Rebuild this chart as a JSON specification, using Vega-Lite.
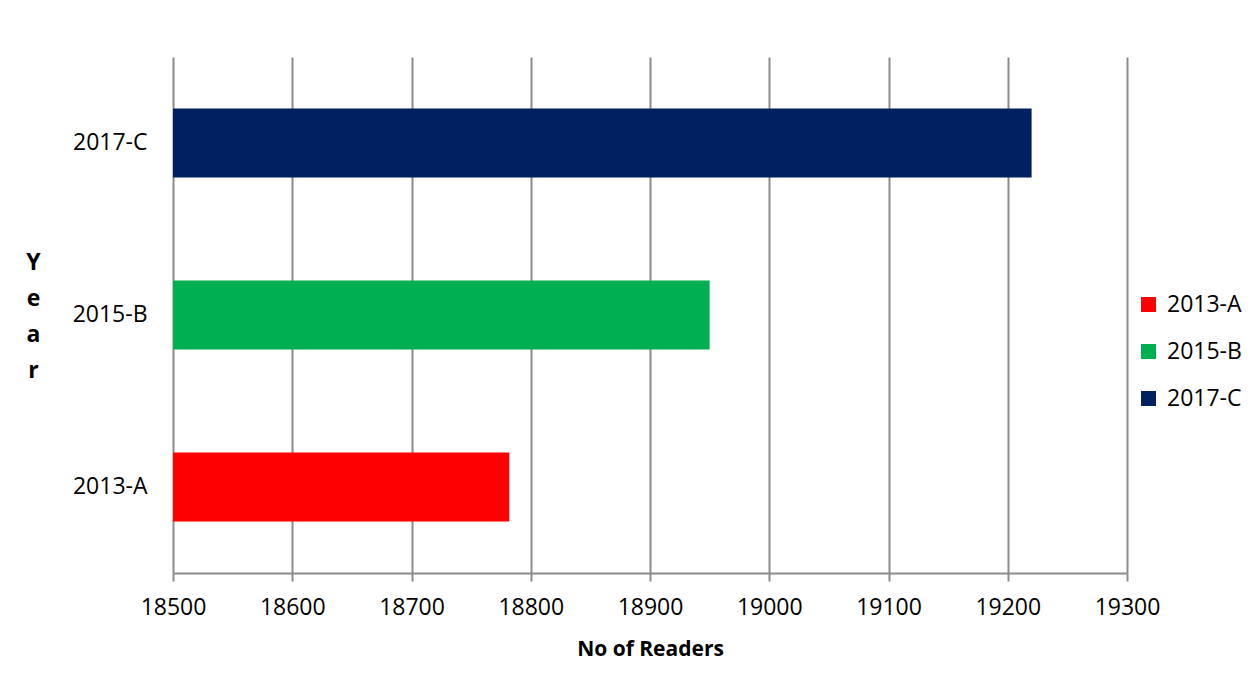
{
  "$schema": "https://vega.github.io/schema/vega-lite/v6.json",
  "autosize": {"type": "none"},
  "width": 954,
  "height": 516,
  "padding": {"left": 173, "top": 57, "right": 124, "bottom": 126},
  "background": "white",
  "config": {
    "font": "Open Sans",
    "view": {"stroke": null}
  },
  "data": {
    "values": [
      {"Year": "2013-A", "Readers": 18782},
      {"Year": "2015-B", "Readers": 18950},
      {"Year": "2017-C", "Readers": 19220}
    ]
  },
  "mark": {"type": "bar"},
  "encoding": {
    "y": {
      "field": "Year",
      "type": "nominal",
      "sort": "descending",
      "scale": {"paddingInner": 0.6, "paddingOuter": 0.3},
      "axis": {
        "title": ["Y", "e", "a", "r"],
        "titleAngle": 0,
        "titleFontSize": 23,
        "titleFontWeight": "bold",
        "titleLineHeight": 36,
        "titleAlign": "center",
        "titleBaseline": "middle",
        "titleX": -140,
        "titleY": 205,
        "titleColor": "black",
        "labelFontSize": 23,
        "labelColor": "black",
        "labelPadding": 26,
        "ticks": false,
        "domain": false,
        "grid": false
      }
    },
    "x": {
      "field": "Readers",
      "type": "quantitative",
      "scale": {"domain": [18500, 19300], "zero": false, "nice": false},
      "axis": {
        "title": "No of Readers",
        "titleFontSize": 21,
        "titleFontWeight": "bold",
        "titleColor": "black",
        "titlePadding": 19,
        "values": [18500, 18600, 18700, 18800, 18900, 19000, 19100, 19200, 19300],
        "format": "d",
        "labelFontSize": 23,
        "labelColor": "black",
        "labelPadding": 15,
        "labelFlush": false,
        "labelOverlap": false,
        "tickSize": 8,
        "tickColor": "#8c8c8c",
        "tickWidth": 2,
        "domainColor": "#8c8c8c",
        "domainWidth": 2,
        "grid": true,
        "gridColor": "#8c8c8c",
        "gridWidth": 2
      }
    },
    "x2": {"datum": 18500},
    "color": {
      "field": "Year",
      "type": "nominal",
      "scale": {
        "domain": ["2013-A", "2015-B", "2017-C"],
        "range": ["#FF0000", "#00B050", "#002060"]
      },
      "legend": {
        "title": null,
        "orient": "none",
        "legendX": 964,
        "legendY": 236,
        "symbolType": "square",
        "symbolSize": 225,
        "symbolStrokeWidth": 0,
        "symbolOpacity": 1,
        "labelFontSize": 23,
        "labelColor": "black",
        "labelOffset": 7,
        "rowPadding": 23
      }
    }
  }
}
